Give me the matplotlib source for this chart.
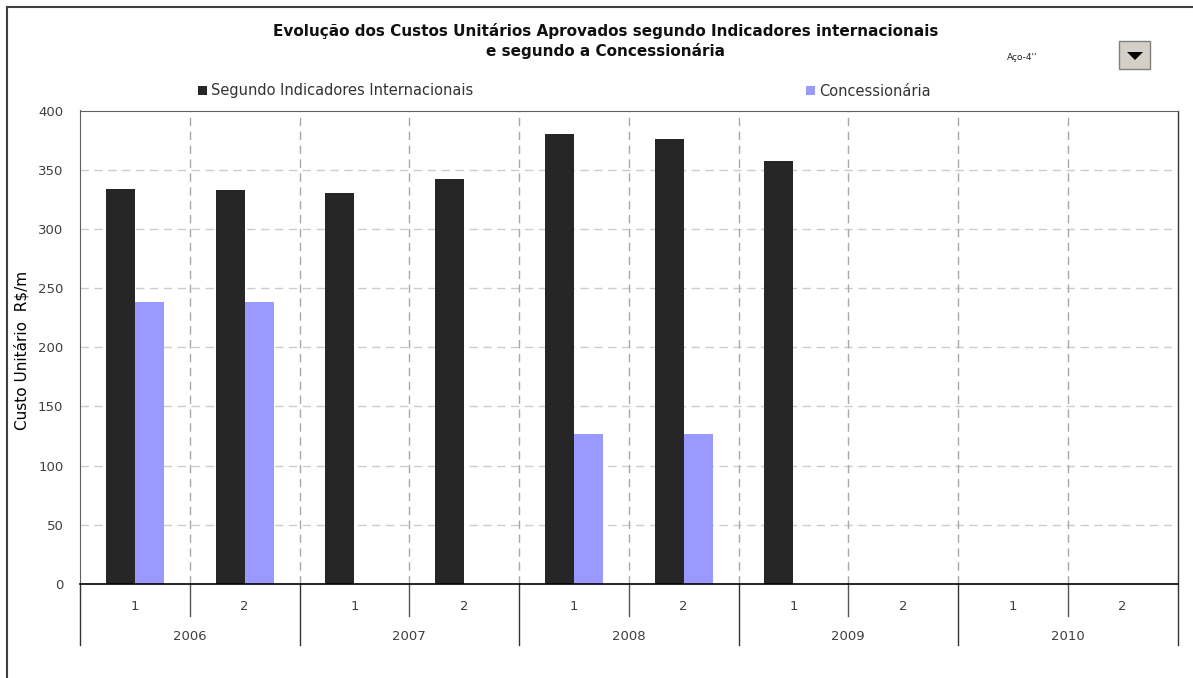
import matplotlib.pyplot as plt
from matplotlib.patches import Rectangle, Polygon
from matplotlib.lines import Line2D
from matplotlib.transforms import blended_transform_factory

# Semester values by year
years = ["2006", "2007", "2008", "2009", "2010"]
semesters = ["1", "2"]
indicadores = [334, 333, 330, 342, 380, 376, 357, 0, 0, 0]
concessionaria = [238, 238, 0, 0, 127, 127, 0, 0, 0, 0]

BLACK = "#262626"
PURPLE = "#9999ff"

W, H = 1193, 678
fig = plt.figure(figsize=(W / 100, H / 100), dpi=100)

def px(x, y):
    return x / W, 1 - y / H

# outer chart frame (left and top edges visible)
fig.add_artist(Line2D([7 / W, 7 / W], [0, 1 - 7 / H], transform=fig.transFigure,
                      color="#404040", lw=1.5))
fig.add_artist(Line2D([7 / W, 1], [1 - 7 / H, 1 - 7 / H], transform=fig.transFigure,
                      color="#404040", lw=1.5))

left, right, top, bottom = 80, 1177.5, 110.5, 584
ax = fig.add_axes([left / W, 1 - bottom / H, (right - left) / W, (bottom - top) / H])

n = len(indicadores)
xs = list(range(n))
w = 0.265
b1 = ax.bar([x - w / 2 for x in xs], indicadores, width=w, color=BLACK)
b2 = ax.bar([x + w / 2 for x in xs], concessionaria, width=w, color=PURPLE)

ax.set_xlim(-0.5, n - 0.5)
ax.set_ylim(0, 400)
ax.set_yticks(range(0, 401, 50))
ax.tick_params(axis="y", length=0, labelsize=9.5, pad=12, labelcolor="#404040")

# horizontal and vertical dashed gridlines
for yv in range(50, 400, 50):
    ax.axhline(yv, color="#cccccc", lw=1, ls=(0, (6, 4)), zorder=0)
for xb in range(n - 1):
    ax.axvline(xb + 0.5, color="#a8a8a8", lw=1, ls=(0, (6, 4)), zorder=0)

for s in ["left", "top", "right"]:
    ax.spines[s].set_color("#606060")
ax.spines["bottom"].set_color("black")
ax.spines["bottom"].set_linewidth(1.2)
ax.spines["right"].set_visible(False)

# two-level category axis
ax.set_xticks([])
tr = blended_transform_factory(ax.transData, ax.transAxes)
axh = bottom - top
for xb in range(0, n, 2):
    ax.add_line(Line2D([xb + 0.5, xb + 0.5], [0, -32 / axh], transform=tr,
                       color="#555555", lw=1, clip_on=False))
for xb in range(0, n + 1, 2):
    ax.add_line(Line2D([xb - 0.5, xb - 0.5], [1 if xb == n else 0, -61 / axh],
                       transform=tr, color="#333333", lw=1, clip_on=False))
for i in range(n):
    ax.text(i, -23 / axh, semesters[i % 2], transform=tr, ha="center", va="center",
            fontsize=9.5, color="#404040")
for j, yr in enumerate(years):
    ax.text(2 * j + 0.5, -52 / axh, yr, transform=tr, ha="center", va="center",
            fontsize=9.5, color="#404040")

fig.text(*px(22, 350), "Custo Unitário  R$/m", rotation=90, ha="center", va="center",
         fontsize=11, color="black")

fig.text(*px(606, 31), "Evolução dos Custos Unitários Aprovados segundo Indicadores internacionais",
         ha="center", va="center", fontsize=11, fontweight="bold", color="#111111")
fig.text(*px(606, 51), "e segundo a Concessionária",
         ha="center", va="center", fontsize=11, fontweight="bold", color="#111111")
fig.text(*px(1022, 57), "Aço-4''", ha="center", va="center", fontsize=6.5, color="#222222")

# dropdown button
bx0, by0, bx1, by1 = 1119, 41, 1150, 69
fig.add_artist(Rectangle(px(bx0, by1), (bx1 - bx0) / W, (by1 - by0) / H,
                         transform=fig.transFigure, facecolor="#d4d0c8",
                         edgecolor="#808080", lw=1))
fig.add_artist(Polygon([px(1127, 52), px(1143, 52), px(1135, 60)], closed=True,
                       transform=fig.transFigure, facecolor="black", edgecolor="none"))

# legend entries
leg_kw = dict(frameon=False, fontsize=10.5, handlelength=0.6, handleheight=0.6,
              handletextpad=0.3, loc="center left", borderaxespad=0, borderpad=0,
              labelcolor="#333333")
fig.legend([b1], ["Segundo Indicadores Internacionais"],
           bbox_to_anchor=px(198, 91), **leg_kw)
fig.legend([b2], ["Concessionária"], bbox_to_anchor=px(806, 91), **leg_kw)

fig.savefig("out.png", dpi=100)
